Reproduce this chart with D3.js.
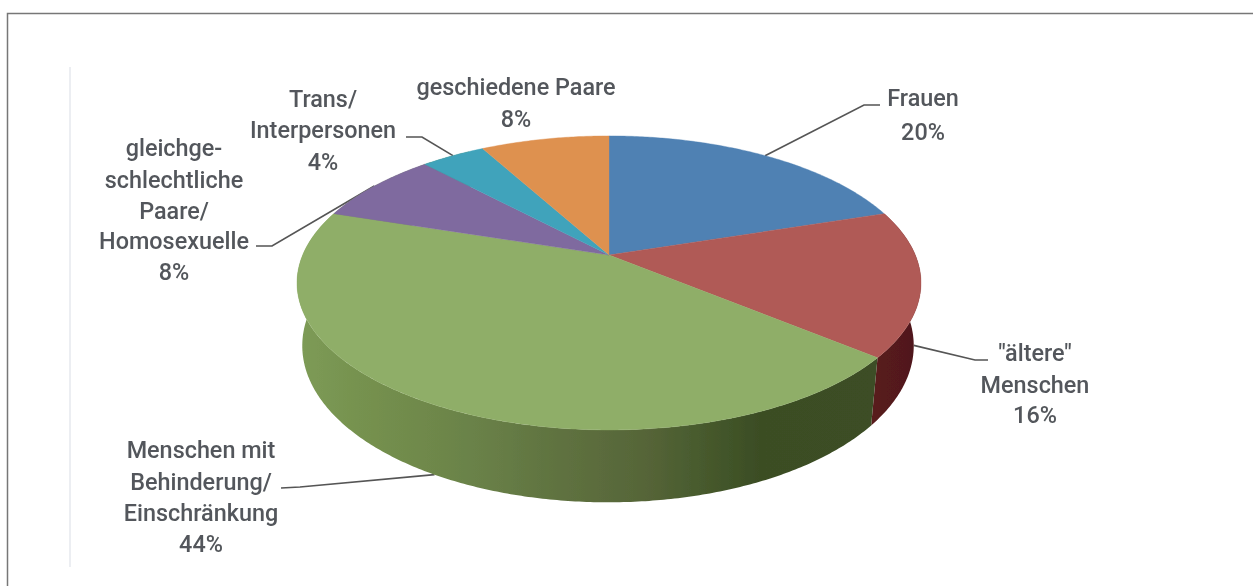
<!DOCTYPE html>
<html><head><meta charset="utf-8">
<style>html,body{margin:0;padding:0;background:#fff;overflow:hidden}svg{display:block}</style>
<script src="https://cdnjs.cloudflare.com/ajax/libs/d3/7.8.5/d3.min.js"></script>
</head><body><svg id="c" width="1253" height="586"></svg>
<script>
// --- data ---
const categories = ["Frauen", "\"ältere\" Menschen", "Menschen mit Behinderung/ Einschränkung", "gleichgeschlechtliche Paare/ Homosexuelle", "Trans/ Interpersonen", "geschiedene Paare"];
const values = [20, 16, 44, 8, 4, 8];
const labelLines = [
  ["Frauen", "20%"],
  ["\"ältere\"", "Menschen", "16%"],
  ["Menschen mit", "Behinderung/", "Einschränkung", "44%"],
  ["gleichge-", "schlechtliche", "Paare/", "Homosexuelle", "8%"],
  ["Trans/", "Interpersonen", "4%"],
  ["geschiedene Paare", "8%"]
];
// --- layout and styles ---
const topColors = ["#4f81b3", "#b05a56", "#8fae68", "#7f6a9f", "#3fa3bb", "#de9150"];
const labelX = [923, 1035, 201, 174, 323, 516];
const labelBaselines = [[106,140],[361,393,423],[458,490,521,552],[156,188,219,249,280],[107,138,170],[95,127]];
// leader: elbow points from label to slice; anchor on "top" or "bottom" rim plane
const leaders = [
  {pts:[[880,105],[864,105]], plane:"top"},
  {pts:[[988,360],[975,360]], plane:"bottom"},
  {pts:[[281,488],[300,487]], plane:"bottom"},
  {pts:[[256,246],[272,246]], plane:"top"},
  {pts:[[406,137],[422,137]], plane:"top"},
  null
];
const cx = 609, cy = 255, R = 306.3, S = 141.7, K = 0.19;
const bottomPlane = {sx:0.98, sy:1.065, dx:-1, dy:61};
const topPlane = {sx:1, sy:1, dx:0, dy:0};
const rad = Math.PI/180;
const sideOverlap = 40 * rad; // walls reach under the top face so the silhouette closes

const svg = d3.select("#c");
const defs = svg.append("defs");
defs.append("filter").attr("id","soft").attr("filterUnits","userSpaceOnUse")
  .attr("x",0).attr("y",0).attr("width",1253).attr("height",586)
  .append("feGaussianBlur").attr("stdDeviation",0.55);
const gradGreen = defs.append("linearGradient").attr("id","sideGreen").attr("gradientUnits","userSpaceOnUse")
  .attr("x1",300).attr("x2",875).attr("y1",0).attr("y2",0);
[[0,"#7d9b56"],[0.1,"#76924f"],[0.3,"#6a8248"],[0.45,"#5f7240"],[0.6,"#566538"],[0.7,"#475a2d"],[0.8,"#3b4d24"],[1,"#3c4e25"]]
  .forEach(([o,c])=>gradGreen.append("stop").attr("offset",o).attr("stop-color",c));
const gradRed = defs.append("linearGradient").attr("id","sideRed").attr("gradientUnits","userSpaceOnUse")
  .attr("x1",870).attr("x2",920).attr("y1",0).attr("y2",0);
[[0,"#5a1b1e"],[1,"#4e181a"]].forEach(([o,c])=>gradRed.append("stop").attr("offset",o).attr("stop-color",c));

const g = svg.append("g").attr("filter","url(#soft)");

// page frame
g.append("path").attr("d","M7.5,586V13.5H1253").attr("fill","none").attr("stroke","#777").attr("stroke-width",1.5);
g.append("line").attr("x1",70).attr("x2",70).attr("y1",67).attr("y2",567).attr("stroke","#e6e9ee").attr("stroke-width",1.5);

// projective mapping from pie angle to the tilted disc
function project(angle, plane) {
  const u = Math.sin(angle), v = -Math.cos(angle), w = 1 - K * v;
  return [cx + plane.dx + plane.sx * R * u / w, cy + plane.dy + plane.sy * S * v / w];
}
const arcs = d3.pie().sort(null).startAngle(0).endAngle(2*Math.PI)(values);
const line = d3.line();
const sample = (a, b) => { const n = Math.max(2, Math.ceil((b-a)/0.01)); return d3.range(n+1).map(i => a + (b-a)*i/n); };

// leaders (under the pie)
arcs.forEach((d,i) => {
  const l = leaders[i]; if (!l) return;
  const mid = (d.startAngle + d.endAngle)/2;
  const anchor = project(mid, l.plane === "top" ? topPlane : bottomPlane);
  g.append("path").attr("d", line([...l.pts, anchor])).attr("fill","none").attr("stroke","#555").attr("stroke-width",1.7);
});

// visible side walls: swept quads from rim to rim
function sidePath(a, b) {
  const as = sample(a, b); let p = "";
  for (let i = 0; i < as.length-1; i++) {
    p += line([project(as[i],topPlane), project(as[i+1],topPlane), project(as[i+1],bottomPlane), project(as[i],bottomPlane)]) + "Z";
  }
  return p;
}
g.append("path").attr("d", sidePath(arcs[1].startAngle, arcs[1].endAngle)).attr("fill","url(#sideRed)");
g.append("path").attr("d", sidePath(arcs[2].startAngle, arcs[2].endAngle + sideOverlap)).attr("fill","url(#sideGreen)");

// top faces
g.selectAll("path.face").data(arcs).join("path").attr("class","face")
  .attr("d", d => line([[cx,cy], ...sample(d.startAngle,d.endAngle).map(a=>project(a,topPlane))]) + "Z")
  .attr("fill",(d,i)=>topColors[i]).attr("stroke",(d,i)=>topColors[i]).attr("stroke-width",0.4);

// labels
labelLines.forEach((lines,i) => {
  lines.forEach((t,j) => {
    g.append("text").attr("x",labelX[i]).attr("y",labelBaselines[i][j]).attr("text-anchor","middle")
      .attr("font-family","Roboto, sans-serif").attr("font-size",23.4).attr("font-weight",500).attr("fill","#53575b").text(t);
  });
});
</script></body></html>
